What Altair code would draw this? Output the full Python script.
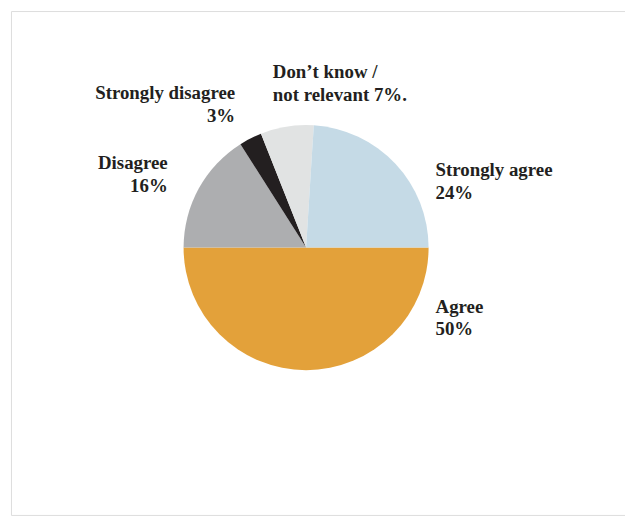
import math
import altair as alt
import pandas as pd

# Data (in drawing order, clockwise starting at 3 o'clock)
categories = ["Agree", "Disagree", "Strongly disagree", "Don't know / not relevant", "Strongly agree"]
values = [50, 16, 3, 7, 24]
colors = ["#e3a13a", "#adaeb0", "#231f20", "#e1e3e3", "#c5dae6"]
label_lines = [
    ["Agree", "50%"],
    ["Disagree", "16%"],
    ["Strongly disagree", "3%"],
    ["Don\u2019t know /", "not relevant 7%."],
    ["Strongly agree", "24%"],
]

df = pd.DataFrame({"category": categories, "value": values, "idx": list(range(len(categories)))})

# frame / view origin on page = (11, 9)
OX, OY = 11, 9
W, H = 619, 508
cx, cy, R = 308.5 - OX, 247.5 - OY, 123.5

FONT = "Liberation Serif"
TXT = "#231f20"

pie = alt.Chart(df).mark_arc(radius=R, stroke=None).encode(
    theta=alt.Theta("value:Q", stack=True, scale=alt.Scale(range=[math.pi / 2, math.pi / 2 + 2 * math.pi])),
    color=alt.Color("category:N", scale=alt.Scale(domain=categories, range=colors), legend=None),
    order=alt.Order("idx:Q"),
    x=alt.value(cx),
    y=alt.value(cy),
)

# label anchor positions (page coords) and alignment, per category
label_pos = {
    "Agree": (439, 313, "left"),
    "Disagree": (169, 168, "right"),
    "Strongly disagree": (237, 98, "right"),
    "Don't know / not relevant": (275, 77, "left"),
    "Strongly agree": (439, 175, "left"),
}

layers = [pie]
for cat, lines in zip(categories, label_lines):
    px, py, al = label_pos[cat]
    layers.append(
        alt.Chart(pd.DataFrame({"t": [0]})).mark_text(
            text=lines, font=FONT, fontSize=19, fontWeight="bold", color=TXT,
            align=al, baseline="alphabetic", lineHeight=23,
        ).encode(x=alt.value(px - OX), y=alt.value(py - OY))
    )

chart = alt.layer(*layers).properties(
    width=W, height=H,
    autosize=alt.AutoSizeParams(type="none"),
    padding={"left": 3, "top": 1, "right": 0, "bottom": 0},
).configure_view(stroke="#c9dce8", strokeWidth=2).configure(background="white")

chart.save("out.html", embed_options={"renderer": "svg", "actions": False})
